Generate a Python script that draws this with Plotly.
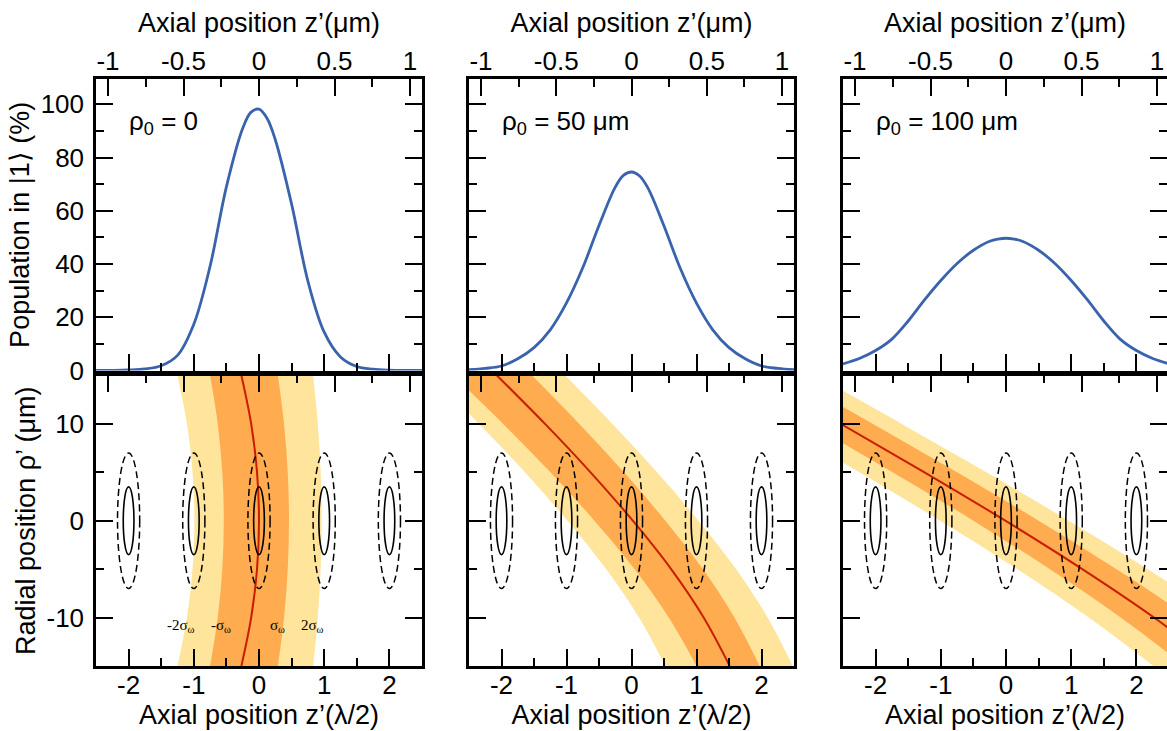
import plotly.graph_objects as go

# ---------------- data ----------------
# axial position in units of lambda/2
Z_GRID = [-2.5, -2.25, -2.0, -1.75, -1.5, -1.25, -1.0, -0.75, -0.5, -0.25, -0.125, 0.0,
          0.125, 0.25, 0.5, 0.75, 1.0, 1.25, 1.5, 1.75, 2.0, 2.25, 2.5]
# population in |1> (%)
POP_RHO0 = [0.0, 0.05, 0.2, 0.6, 1.8, 5.7, 17.4, 39.2, 69.0, 91.0, 97.0, 98.2,
            94.7, 86.7, 62.5, 33.6, 14.4, 5.1, 1.5, 0.5, 0.15, 0.05, 0.0]
POP_RHO50 = [0.3, 0.8, 1.7, 4.4, 8.6, 15.3, 25.4, 38.6, 54.5, 68.9, 73.3, 74.6,
             73.1, 68.7, 54.3, 38.4, 25.3, 15.3, 8.6, 4.4, 1.7, 0.8, 0.3]
POP_RHO100 = [2.5, 4.5, 7.5, 11.8, 18.6, 26.5, 33.8, 40.2, 45.2, 48.6, 49.4, 49.7,
              49.4, 48.6, 45.2, 40.2, 33.8, 26.5, 18.6, 11.8, 7.5, 4.5, 2.5]

# radial position (um) at which band edges / centre line were read
RHO_SAMPLES = [15, 10, 5, 0, -5, -10, -15]
# rho0 = 0 : -2sigma, -sigma, centre, +sigma, +2sigma (axial position, lambda/2)
R0_M2 = [-1.25, -1.105, -1.02, -0.99, -1.02, -1.105, -1.25]
R0_M1 = [-0.75, -0.633, -0.563, -0.54, -0.563, -0.633, -0.75]
R0_CENTER = [-0.27, -0.12, -0.03, 0.0, -0.03, -0.12, -0.27]
R0_P1 = [0.29, 0.384, 0.441, 0.46, 0.441, 0.384, 0.29]
R0_P2 = [0.83, 0.902, 0.946, 0.96, 0.946, 0.902, 0.83]
# rho0 = 50 um
R50_M2 = [-3.09, -2.345, -1.64, -0.985, -0.39, 0.115, 0.52]
R50_M1 = [-2.74, -1.973, -1.247, -0.57, 0.047, 0.573, 1.00]
R50_CENTER = [-2.07, -1.33, -0.63, 0.02, 0.61, 1.11, 1.51]
R50_P1 = [-1.53, -0.803, -0.117, 0.52, 1.097, 1.583, 1.97]
R50_P2 = [-1.02, -0.293, 0.393, 1.03, 1.607, 2.093, 2.48]
# rho0 = 100 um
R100_M2 = [-4.84, -3.53, -2.25, -1.01, 0.17, 1.27, 2.26]
R100_M1 = [-4.32, -3.01, -1.74, -0.50, 0.67, 1.76, 2.74]
R100_CENTER = [-3.84, -2.53, -1.25, -0.01, 1.17, 2.27, 3.26]
R100_P1 = [-3.36, -2.04, -0.75, 0.50, 1.69, 2.805, 3.81]
R100_P2 = [-2.92, -1.60, -0.30, 0.96, 2.17, 3.30, 4.32]

# trap sites (ellipses)
SITE_Z = [-2, -1, 0, 1, 2]
SITE_RHO = [0, 0, 0, 0, 0]
INNER_HALF = (0.082, 3.5)   # (z half-width, rho half-height)
OUTER_HALF = (0.17, 7.0)

PANEL_LABELS = ["ρ<sub>0</sub> = 0", "ρ<sub>0</sub> = 50 μm", "ρ<sub>0</sub> = 100 μm"]
SIGMA_LABELS = ["-2σ<sub>ω</sub>", "-σ<sub>ω</sub>", "σ<sub>ω</sub>", "2σ<sub>ω</sub>"]
SIGMA_LABEL_Z = [-1.19, -0.585, 0.29, 0.82]
SIGMA_LABEL_RHO = -10.9

X_TICKS = [-2, -1, 0, 1, 2]
X_MINOR = [-2.5, -1.5, -0.5, 0.5, 1.5, 2.5]
UM_TICKS = [-1, -0.5, 0, 0.5, 1]
UM_MINOR = [-1.25, -0.75, -0.25, 0.25, 0.75, 1.25]
POP_TICKS = [0, 20, 40, 60, 80, 100]
POP_MINOR = [10, 30, 50, 70, 90]
RHO_TICKS = [-10, 0, 10]
RHO_MINOR = [-15, -5, 5, 15]

LAMBDA_HALF_UM = 0.4318   # 1 unit of lambda/2 in um

POPS = [POP_RHO0, POP_RHO50, POP_RHO100]
BANDS = [
    (R0_M2, R0_M1, R0_CENTER, R0_P1, R0_P2),
    (R50_M2, R50_M1, R50_CENTER, R50_P1, R50_P2),
    (R100_M2, R100_M1, R100_CENTER, R100_P1, R100_P2),
]

# ---------------- style / layout ----------------
FONT = "Liberation Sans, Arial, Helvetica, sans-serif"
SERIF = "Liberation Serif, Times New Roman, serif"
BLUE = "#3a63ad"
RED = "#c81e00"
YELLOW = "#ffe49c"
ORANGE = "#ffab4f"
TICK_SIZE = 26
TITLE_SIZE = 27

W = 1167
H = 747          # page height that ends up shown as 731 rows
YS = H / 731.0   # target-row -> page-pixel factor


def px_x(a, b):
    return [a / W, min(1.0, b / W)]


def px_y(top, bottom):
    return [(H - bottom * YS) / H, (H - top * YS) / H]


COL_DOM = [px_x(96, 422), px_x(469, 794), px_x(843, 1169)]
TOP_DOM = px_y(79, 370)
BOT_DOM = px_y(375, 665)
X_RANGES = [[-2.5, 2.5], [-2.5, 2.5], [-2.5, 2.5 - 2 / 65.2]]

fig = go.Figure()


def ax(n):
    return "" if n == 1 else str(n)


for c in range(3):
    xt, yt = "x" + ax(c + 1), "y" + ax(c + 1)
    xb, yb = "x" + ax(c + 4), "y" + ax(c + 4)
    fig.add_trace(go.Scatter(x=Z_GRID, y=POPS[c], xaxis=xt, yaxis=yt, mode="lines",
                             line=dict(color=BLUE, width=2.8, shape="spline", smoothing=1.0),
                             hoverinfo="skip"))
    m2, m1, cen, p1, p2 = BANDS[c]
    band_line = dict(width=0, shape="spline", smoothing=1.0)
    fig.add_trace(go.Scatter(x=m2, y=RHO_SAMPLES, xaxis=xb, yaxis=yb, mode="lines",
                             line=band_line, hoverinfo="skip"))
    fig.add_trace(go.Scatter(x=p2, y=RHO_SAMPLES, xaxis=xb, yaxis=yb, mode="lines",
                             line=band_line, fill="tonextx", fillcolor=YELLOW, hoverinfo="skip"))
    fig.add_trace(go.Scatter(x=m1, y=RHO_SAMPLES, xaxis=xb, yaxis=yb, mode="lines",
                             line=band_line, hoverinfo="skip"))
    fig.add_trace(go.Scatter(x=p1, y=RHO_SAMPLES, xaxis=xb, yaxis=yb, mode="lines",
                             line=band_line, fill="tonextx", fillcolor=ORANGE, hoverinfo="skip"))
    fig.add_trace(go.Scatter(x=cen, y=RHO_SAMPLES, xaxis=xb, yaxis=yb, mode="lines",
                             line=dict(color=RED, width=2, shape="spline", smoothing=1.0),
                             hoverinfo="skip"))
    # ellipses marking the trap sites
    for zc, rc in zip(SITE_Z, SITE_RHO):
        fig.add_shape(type="circle", xref=xb, yref=yb,
                      x0=zc - OUTER_HALF[0], x1=zc + OUTER_HALF[0],
                      y0=rc - OUTER_HALF[1], y1=rc + OUTER_HALF[1],
                      line=dict(color="black", width=1.5, dash="7px,4px"))
        fig.add_shape(type="circle", xref=xb, yref=yb,
                      x0=zc - INNER_HALF[0], x1=zc + INNER_HALF[0],
                      y0=rc - INNER_HALF[1], y1=rc + INNER_HALF[1],
                      line=dict(color="black", width=1.6))
    # panel label
    fig.add_annotation(text=PANEL_LABELS[c], xref=xt + " domain", yref=yt + " domain",
                       x=0.095, y=0.85, xanchor="left", yanchor="middle", showarrow=False,
                       font=dict(family=FONT, size=TICK_SIZE, color="black"))

# dummy (invisible) traces so that the overlay axes render
for k in range(6):
    base_y = "y" + ax(k + 1)
    fig.add_trace(go.Scatter(x=[0], y=[0], xaxis="x" + str(k + 7), yaxis=base_y, mode="markers",
                             marker=dict(opacity=0), hoverinfo="skip"))
fig.add_trace(go.Scatter(x=[0], y=[0], xaxis="x3", yaxis="y7", mode="markers",
                         marker=dict(opacity=0), hoverinfo="skip"))
fig.add_trace(go.Scatter(x=[0], y=[0], xaxis="x6", yaxis="y8", mode="markers",
                         marker=dict(opacity=0), hoverinfo="skip"))

for txt, zl in zip(SIGMA_LABELS, SIGMA_LABEL_Z):
    fig.add_annotation(text=txt, xref="x4", yref="y4", x=zl, y=SIGMA_LABEL_RHO,
                       showarrow=False, xanchor="center", yanchor="middle",
                       font=dict(family=SERIF, size=15, color="black"))

LINE = dict(showline=True, linecolor="black", linewidth=2.5, showgrid=False, zeroline=False,
            ticks="inside", ticklen=17, tickwidth=1.5, tickcolor="black",
            tickfont=dict(family=FONT, size=TICK_SIZE, color="black"), fixedrange=True)
TITLE_FONT = dict(family=FONT, size=TITLE_SIZE, color="black")


def minor(vals):
    return dict(tickmode="array", tickvals=vals, ticks="inside", ticklen=8,
                tickwidth=1.5, tickcolor="black", showgrid=False)


def fmt(v):
    return "%g" % v


layout = dict(width=W, height=H, margin=dict(l=0, r=0, t=0, b=0),
              plot_bgcolor="white", paper_bgcolor="white", showlegend=False,
              font=dict(family=FONT, size=TICK_SIZE, color="black"))

for c in range(3):
    rng = X_RANGES[c]
    um_rng = [rng[0] * LAMBDA_HALF_UM, rng[1] * LAMBDA_HALF_UM]
    # lambda/2 axis on the bottom edge of the upper panel
    layout["xaxis" + ax(c + 1)] = dict(LINE, domain=COL_DOM[c], anchor="y" + ax(c + 1),
                                       range=rng, tickmode="array", tickvals=X_TICKS,
                                       showticklabels=False, minor=minor(X_MINOR))
    # lambda/2 axis with labels, lower panel
    layout["xaxis" + ax(c + 4)] = dict(LINE, domain=COL_DOM[c], anchor="y" + ax(c + 4),
                                       range=rng, tickmode="array", tickvals=X_TICKS,
                                       ticktext=[fmt(v) for v in X_TICKS], minor=minor(X_MINOR),
                                       ticklabelstandoff=-6,
                                       title=dict(text="Axial position z’(λ/2)", standoff=0,
                                                  font=TITLE_FONT))
    # um axis on top of the upper panel
    layout["xaxis" + str(c + 7)] = dict(LINE, domain=COL_DOM[c], anchor="y" + ax(c + 1),
                                        overlaying="x" + ax(c + 1), side="top",
                                        range=um_rng, tickmode="array", tickvals=UM_TICKS,
                                        ticktext=[fmt(v) for v in UM_TICKS], minor=minor(UM_MINOR),
                                        ticklabelstandoff=-4,
                                        title=dict(text="Axial position z’(μm)", standoff=6,
                                                   font=TITLE_FONT))
    # um ticks on top of the lower panel
    layout["xaxis" + str(c + 10)] = dict(LINE, domain=COL_DOM[c], anchor="y" + ax(c + 4),
                                         overlaying="x" + ax(c + 4), side="top",
                                         range=um_rng, tickmode="array", tickvals=UM_TICKS,
                                         showticklabels=False, minor=minor(UM_MINOR))
    mirror = "ticks" if c < 2 else False
    ytop = dict(LINE, domain=TOP_DOM, anchor="x" + ax(c + 1), range=[0, 109.5],
                tickmode="array", tickvals=POP_TICKS, ticktext=[fmt(v) for v in POP_TICKS],
                minor=minor(POP_MINOR), mirror=mirror, showticklabels=(c == 0),
                ticklabelstandoff=4)
    ybot = dict(LINE, domain=BOT_DOM, anchor="x" + ax(c + 4), range=[-15, 15],
                tickmode="array", tickvals=RHO_TICKS, ticktext=[fmt(v) for v in RHO_TICKS],
                minor=minor(RHO_MINOR), mirror=mirror, showticklabels=(c == 0),
                ticklabelstandoff=4)
    if c == 0:
        ytop["title"] = dict(text="Population in |1⟩ (%)", standoff=4, font=TITLE_FONT)
        ybot["title"] = dict(text="Radial position ρ’ (μm)", standoff=4, font=TITLE_FONT)
    layout["yaxis" + ax(c + 1)] = ytop
    layout["yaxis" + ax(c + 4)] = ybot

# right-edge ticks of the cut-off right column (its right border is outside the picture)
layout["yaxis7"] = dict(LINE, showline=False, domain=TOP_DOM, anchor="x3", overlaying="y3",
                        side="right", range=[0, 109.5], tickmode="array", tickvals=POP_TICKS,
                        showticklabels=False, minor=minor(POP_MINOR))
layout["yaxis8"] = dict(LINE, showline=False, domain=BOT_DOM, anchor="x6", overlaying="y6",
                        side="right", range=[-15, 15], tickmode="array", tickvals=RHO_TICKS,
                        showticklabels=False, minor=minor(RHO_MINOR))

fig.update_layout(**layout)
# remove the default page margin / scrollbars so the figure sits at the window corner
PAGE_FIX = ("document.documentElement.style.margin='0px';"
            "document.documentElement.style.padding='0px';"
            "document.documentElement.style.overflow='hidden';"
            "document.body.style.margin='0px';"
            "document.body.style.padding='0px';"
            "document.body.style.overflow='hidden';")
fig.write_html("out.html", config={"displayModeBar": False}, post_script=PAGE_FIX)
